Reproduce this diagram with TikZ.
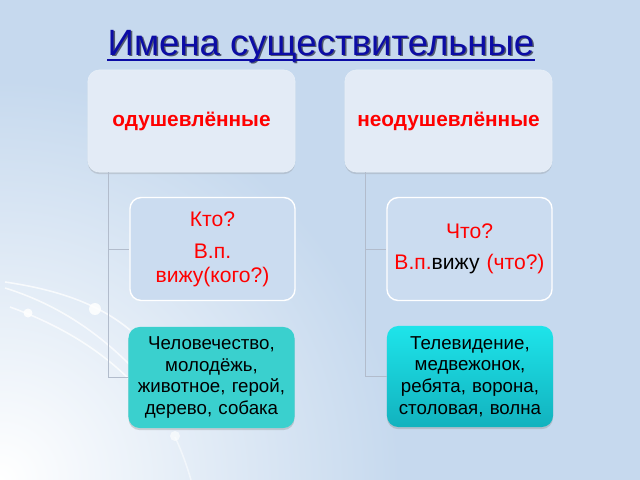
\documentclass[tikz,border=0pt]{standalone}
\usepackage{fontspec}
\setmainfont{Liberation Sans}
\usetikzlibrary{shadows}
\definecolor{slidebg}{RGB}{198,217,238}
\definecolor{topfill}{RGB}{227,235,246}
\definecolor{midfill}{RGB}{203,220,240}
\definecolor{titleblue}{RGB}{12,12,165}
\definecolor{branchgrey}{RGB}{178,188,204}
\definecolor{tealleft}{RGB}{58,208,206}
\definecolor{tealtop}{RGB}{30,228,234}
\definecolor{tealbot}{RGB}{18,178,190}
\tikzset{
  topbox/.style={rounded corners=8pt, fill=topfill, draw=white!60!slidebg, minimum width=5.175cm, minimum height=2.55cm,
    drop shadow={opacity=0.25, shadow xshift=0pt, shadow yshift=-1.5pt}, text=red, font=\fontsize{14.8}{17}\selectfont\bfseries},
  qbox/.style={rounded corners=8pt, fill=midfill, draw=white, line width=1pt, minimum width=4.125cm, minimum height=2.575cm,
    text width=3.8cm, align=center, text=red, font=\fontsize{15}{17}\selectfont},
  exbox/.style={rounded corners=8pt, minimum width=4.15cm, minimum height=2.525cm, text width=3.8cm, align=center,
    drop shadow={opacity=0.3, shadow xshift=0pt, shadow yshift=-1.5pt}, font=\fontsize{13.3}{15.5}\selectfont},
  branch/.style={draw=branchgrey, line width=0.6pt},
  deco/.style={white, opacity=0.75, line width=1.1pt},
}

\begin{document}
\begin{tikzpicture}[x=0.025cm, y=-0.025cm]
% slide background
\fill[slidebg] (0,0) rectangle (640,480);
\begin{scope}
\clip (0,0) rectangle (640,480);
\shade[inner color=white, outer color=slidebg] (0,480) circle (400);
\end{scope}
\useasboundingbox (0,0) rectangle (640,480);

% white swooshes on the left
\draw[deco] (5,282) .. controls (60,290) and (100,305) .. (130,330);
\draw[deco] (5,288) .. controls (60,305) and (100,335) .. (130,365);
\draw[deco] (10,307) .. controls (60,325) and (100,350) .. (130,380);
\draw[deco, opacity=0.5] (175,437) .. controls (182,452) and (187,466) .. (191,480);
\fill[white, opacity=0.85] (95,309) circle (6);
\fill[white, opacity=0.85] (28,313) circle (4.5);
\fill[white, opacity=0.6] (175,436) circle (5);

% title
\node[text=black!85!titleblue, opacity=0.6, inner sep=0pt, anchor=base, font=\fontsize{26}{30}\selectfont] at (322.5,56.5) {Имена существительные};
\node(title)[text=titleblue, inner sep=0pt, anchor=base, font=\fontsize{26}{30}\selectfont] at (321,55) {Имена существительные};
\draw[titleblue, line width=1.7pt] ([yshift=-3.5pt]title.base west) -- ([yshift=-3.5pt]title.base east);

% top level
\node(anim)[topbox] at (191.5,121) {одушевлённые};
\node(inanim)[topbox] at (448.5,121) {неодушевлённые};

% questions
\node(animq)[qbox] at (212.5,249) {Кто?\\[6pt] В.п.\\ вижу(кого?)};
\node(inanimq)[qbox] at (469.5,249) {Что?\\[5pt] В.п.\textcolor{black}{вижу} (что?)};

% examples
\node(animex)[exbox, fill=tealleft] at (211.5,377.5) {Человечество,\\ молодёжь,\\ животное, герой,\\ дерево, собака};
\node(inanimex)[exbox, top color=tealtop, bottom color=tealbot] at (470,376.5) {Телевидение,\\ медвежонок,\\ ребята, ворона,\\ столовая, волна};

% tree lines
\draw[branch] ([xshift=0.525cm]anim.south west) coordinate(animtrunk) |- (animex.west);
\draw[branch] (animtrunk |- animq.west) -- (animq.west);
\draw[branch] ([xshift=0.525cm]inanim.south west) coordinate(inanimtrunk) |- (inanimex.west);
\draw[branch] (inanimtrunk |- inanimq.west) -- (inanimq.west);
\end{tikzpicture}
\end{document}
